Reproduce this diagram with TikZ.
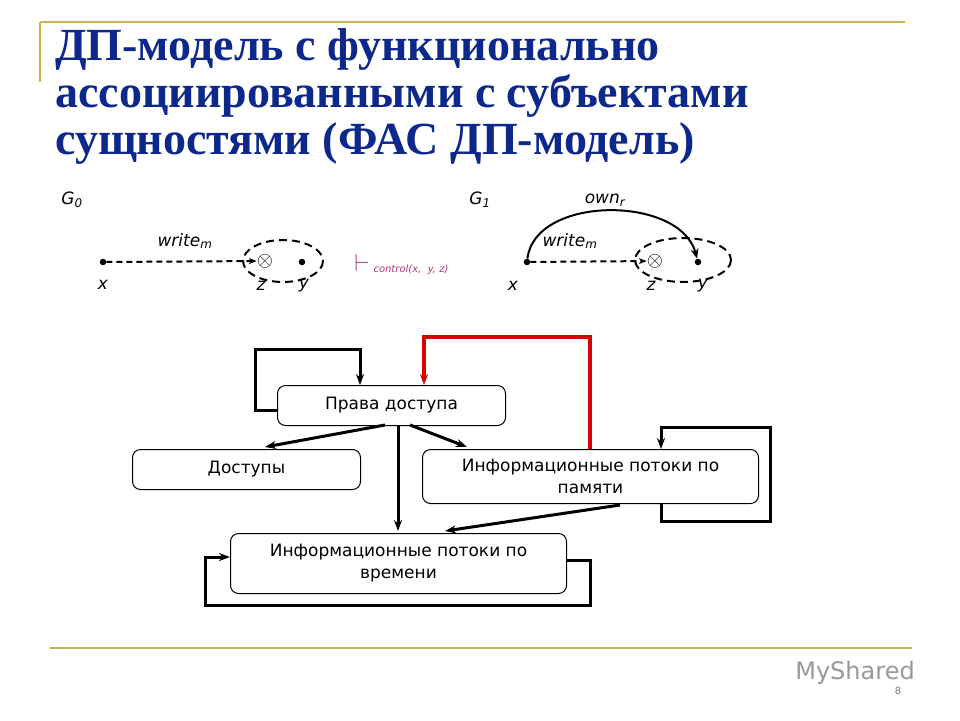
\documentclass[tikz,border=0pt]{standalone}
\usepackage{fontspec}
\setmainfont{DejaVu Sans}
\newfontfamily\titlefont{Liberation Serif}
\usetikzlibrary{arrows.meta}
\definecolor{gold}{RGB}{200,180,80}
\definecolor{tblue}{RGB}{12,40,140}
\begin{document}
\begin{tikzpicture}[x=1pt,y=-1pt,
  box/.style={draw,line width=1pt,rounded corners=8pt,fill=white,font=\fontsize{17}{22}\selectfont,align=center,anchor=north west,inner sep=0pt},
  ar/.style={-{Stealth[length=11pt,width=8pt]},line width=3pt},
  lab/.style={font=\fontsize{17}{20}\selectfont\itshape},
  dot/.style={circle,fill,inner sep=2.3pt},
  otim/.style={inner sep=0pt,font=\fontsize{22}{22}\selectfont},
  ell/.style={draw,line width=2pt,dash pattern=on 8pt off 5pt}]
\useasboundingbox (0,0) rectangle (960,720);
\fill[white] (0,0) rectangle (960,720);
\draw[gold,line width=2pt] (40,22) -- (905,22);
\draw[gold,line width=2pt] (40,22) -- (40,82);
\draw[gold,line width=2pt] (50,648) -- (912,648);
\node[anchor=west,text=tblue,font=\titlefont\bfseries\fontsize{46}{47}\selectfont,align=left,inner sep=0pt] (title) at (55,97)
 {ДП-модель с функционально\\ассоциированными с субъектами\\сущностями (ФАС ДП-модель)};
% G0
\node[lab] (g0) at (72,200) {G\textsubscript{0}};
\node[dot] (x0) at (103,262) {};
\node[otim] (z0) at (265,261) {$\otimes$};
\node[dot] (y0) at (302,262) {};
\draw[ell] (283,261) ellipse [x radius=40,y radius=21];
\draw[-{Stealth[length=8pt]},line width=2pt,dash pattern=on 6pt off 4pt] (x0) -- (z0);
\node[lab] (w0) at (185,241) {write\textsubscript{m}};
\node[lab] (lx0) at (103,285) {x};
\node[lab] (lz0) at (261,286) {z};
\node[lab] (ly0) at (304,286) {y};
\node[font=\fontsize{26}{28}\selectfont,text=magenta!70!black] (vd) at (362,263) {$\vdash$};
\node[anchor=west,text=magenta!70!black,font=\fontsize{10}{12}\selectfont\itshape] (ctl) at (370,270) {control(x,\ \ y, z)};
% G1
\node[lab] (g1) at (480,200) {G\textsubscript{1}};
\node[lab] (own) at (605,200) {own\textsubscript{r}};
\node[dot] (x1) at (527,262) {};
\node[otim] (z1) at (655,261) {$\otimes$};
\node[dot] (y1) at (698,262) {};
\draw[ell] (683,260) ellipse [x radius=48,y radius=22];
\draw[-{Stealth[length=8pt]},line width=2pt,dash pattern=on 6pt off 4pt] (x1) -- (z1);
\draw[-{Stealth[length=10pt,width=8pt]},line width=2pt] (x1) .. controls (535,195) and (680,195) .. (y1);
\node[lab] (w1) at (570,241) {write\textsubscript{m}};
\node[lab] (lx1) at (513,286) {x};
\node[lab] (lz1) at (651,286) {z};
\node[lab] (ly1) at (703,286) {y};
% flowchart
\node[box,minimum width=228pt,minimum height=40pt] (pd) at (277,385) {Права доступа};
\node[box,minimum width=228pt,minimum height=40pt] (dos) at (132,449) {Доступы};
\node[box,minimum width=336pt,minimum height=54pt] (mem) at (422,449) {Информационные потоки по\\памяти};
\node[box,minimum width=336pt,minimum height=60pt] (tim) at (230,533) {Информационные потоки по\\времени};
\coordinate (a1) at (255,349);
\draw[ar] (pd.west|-0,410) -| (a1) -| (360,385);
\draw[ar,red!85!black,line width=4pt] (590,449) |- (424,337) -- (424,385);
\draw[ar] (385,425) -- (265,447);
\draw[ar] (398,425) -- (398,531);
\draw[ar] (410,425) -- (467,447);
\draw[ar] (620,505) -- (445,531);
\draw[ar] (661,503) |- (770,521) |- (661,427) -- (661,449);
\draw[ar] (566,560) -| (590,605) -| (205,557) -- (230,557);
% footer
\node[text=gray!80,font=\fontsize{24}{26}\selectfont] (ms) at (855,673) {MyShared};
\node[font=\fontsize{10}{12}\selectfont,text=gray] (pg) at (898,691) {8};
\end{tikzpicture}
\end{document}
